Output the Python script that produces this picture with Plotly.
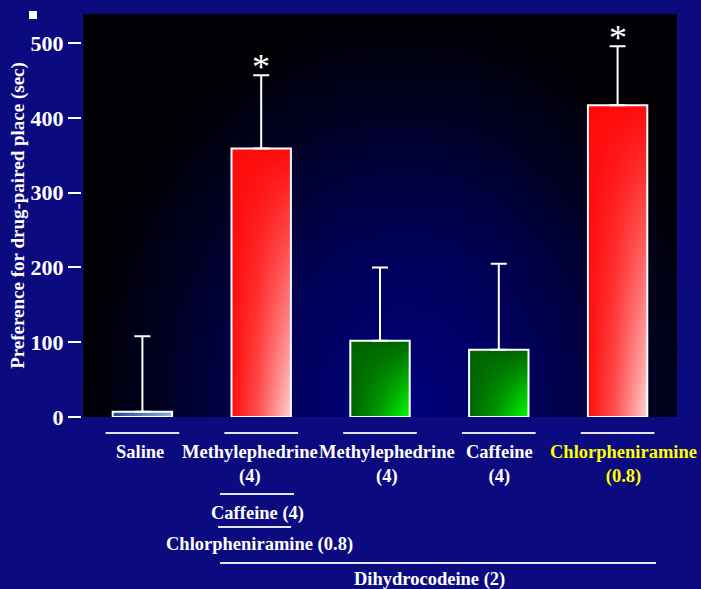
import plotly.graph_objects as go

# ---------------- data ----------------
label_line1 = ["Saline", "Methylephedrine", "Methylephedrine", "Caffeine", "Chlorpheniramine"]
label_line2 = ["", "(4)", "(4)", "(4)", "(0.8)"]
preference = [7, 359, 102, 90, 417]
sem = [101, 98, 98, 115, 79]
significant = [False, True, False, False, True]
combo_labels = ["Caffeine (4)", "Chlorpheniramine (0.8)", "Dihydrocodeine (2)"]
y_ticks = [0, 100, 200, 300, 400, 500]
y_title = "Preference for drug-paired place (sec)"

# ---------------- styles / layout constants ----------------
bar_style = ["blue", "red", "green", "green", "red"]
label_color = ["white", "white", "white", "white", "#FFFF00"]
label_xshift = [-2, -11, 7, 1, 6]

W, H = 701, 589
ML, MR, MT, MB = 83, 24, 14, 172
PW, PH = W - ML - MR, H - MT - MB
Y_MAX = 539
BAR_W = 0.5
FONT = "Liberation Serif, Times New Roman, serif"
PAPER = "#0C0A7F"


def pyf(pix):
    return (H - MB - pix) / PH


def pxf(pix):
    return (pix - ML) / PW


gradients = {
    "red": ([[0, "#ff0c0c"], [0.45, "#ff5050"], [1, "#ffd2d2"]],
            [[0, "rgba(255,10,10,0)"], [1, "rgba(255,10,10,1)"]]),
    "green": ([[0, "#006200"], [0.5, "#00a000"], [1, "#00ff00"]],
              [[0, "rgba(0,100,0,0)"], [1, "rgba(0,100,0,1)"]]),
    "blue": ([[0, "#1a4c8c"], [1, "#a6c2e2"]],
             [[0, "rgba(26,76,140,0)"], [1, "rgba(26,76,140,0.3)"]]),
}

fig = go.Figure()

# plot-area background glow (radial gradient)
bx0, bx1 = -0.5, 4.9
fig.add_trace(go.Scatter(
    x=[bx0, bx1, bx1, bx0], y=[-Y_MAX, -Y_MAX, Y_MAX, Y_MAX],
    fill="toself", mode="none", hoverinfo="skip", showlegend=False,
    fillgradient=dict(type="radial",
                      colorscale=[[0, "#000080"], [0.45, "#000054"], [0.8, "#00001e"], [1, "#000005"]]),
    zorder=0,
))

# gradient fills of the bars, built from the data
for i, v in enumerate(preference):
    base, overlay = gradients[bar_style[i]]
    xs = [i - BAR_W / 2, i + BAR_W / 2, i + BAR_W / 2, i - BAR_W / 2]
    ys = [0, 0, v, v]
    fig.add_trace(go.Scatter(x=xs, y=ys, fill="toself", mode="none", hoverinfo="skip",
                             showlegend=False, zorder=1,
                             fillgradient=dict(type="horizontal", colorscale=base)))
    fig.add_trace(go.Scatter(x=xs, y=ys, fill="toself", mode="none", hoverinfo="skip",
                             showlegend=False, zorder=1,
                             fillgradient=dict(type="vertical", colorscale=overlay)))

# the bars themselves: outline + error bars
fig.add_trace(go.Bar(
    x=list(range(len(preference))), y=preference, width=BAR_W,
    marker=dict(color="rgba(0,0,0,0)", line=dict(color="white", width=2)),
    error_y=dict(type="data", array=sem, arrayminus=[0] * len(sem), symmetric=False,
                 color="white", thickness=2, width=8),
    showlegend=False, zorder=3,
))

annotations = []
# significance asterisks
for i, s in enumerate(significant):
    if s:
        annotations.append(dict(x=i, y=preference[i] + sem[i], xref="x", yref="y",
                                text="*", showarrow=False, yanchor="bottom", yshift=-14,
                                font=dict(family=FONT, size=36, color="white")))

# category labels
for i in range(len(label_line1)):
    txt = label_line1[i] + ("<br>" + label_line2[i] if label_line2[i] else "")
    annotations.append(dict(x=i, xref="x", xshift=label_xshift[i], y=pyf(440), yref="paper",
                            yanchor="top", xanchor="center", text=txt, showarrow=False,
                            font=dict(family=FONT, size=18.5, color=label_color[i], weight="bold")))

# combination labels
combo_pos = [(257.5, 513), (259.5, 544), (430, 579)]
for t, (cx, cy) in zip(combo_labels, combo_pos):
    annotations.append(dict(x=pxf(cx), y=pyf(cy), xref="paper", yref="paper", text=t,
                            showarrow=False, xanchor="center", yanchor="middle",
                            font=dict(family=FONT, size=18.5, color="white", weight="bold")))

shapes = []
LINE_C = "#E4E4F4"
for i in range(len(label_line1)):
    shapes.append(dict(type="line", xref="x", yref="paper", x0=i - 0.31, x1=i + 0.31,
                       y0=pyf(433), y1=pyf(433), line=dict(color=LINE_C, width=2)))
for (x0, x1, yy) in [(220, 294, 494), (218, 291, 527), (220, 656, 563)]:
    shapes.append(dict(type="line", xref="paper", yref="paper", x0=pxf(x0), x1=pxf(x1),
                       y0=pyf(yy), y1=pyf(yy), line=dict(color=LINE_C, width=2)))
# small white bullet square
shapes.append(dict(type="rect", xref="paper", yref="paper", x0=pxf(29), x1=pxf(37),
                   y0=pyf(19), y1=pyf(11), fillcolor="white", line=dict(width=0)))

fig.update_layout(
    width=W, height=H,
    margin=dict(l=ML, r=MR, t=MT, b=MB, autoexpand=False),
    paper_bgcolor=PAPER, plot_bgcolor="#000000",
    showlegend=False, bargap=0.5,
    annotations=annotations, shapes=shapes,
    xaxis=dict(range=[-0.5, 4.5], showticklabels=False, ticks="", showgrid=False,
               zeroline=False, showline=True, mirror=True, linecolor="white", linewidth=2,
               fixedrange=True),
    yaxis=dict(range=[0, Y_MAX], tickvals=y_ticks, ticks="outside", ticklen=13, tickwidth=2,
               tickcolor="white", showgrid=False, zeroline=False, showline=True, mirror=True,
               linecolor="white", linewidth=2, automargin=False,
               tickfont=dict(family=FONT, size=22, color="white", weight="bold"),
               title=dict(text=y_title, standoff=1,
                          font=dict(family=FONT, size=19, color="white", weight="bold"))),
)

fig.write_html(
    "out.html",
    config={"displayModeBar": False},
    post_script="document.body.style.margin='0';document.body.style.padding='0';"
                "document.body.style.overflow='hidden';"
                "document.body.style.background='" + PAPER + "';",
)
